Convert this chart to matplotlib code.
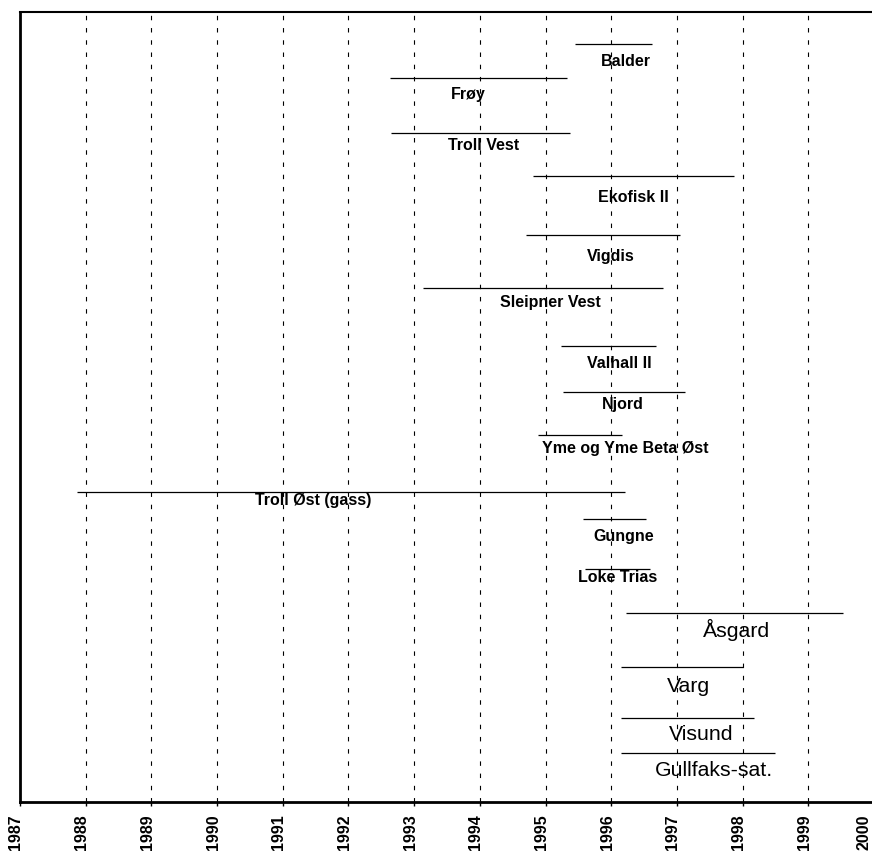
import matplotlib.pyplot as plt
from matplotlib.transforms import ScaledTranslation

# prosjekter, start/slutt (år) og rad (ovenfra)
projects = ['Balder', 'Frøy', 'Troll Vest', 'Ekofisk II', 'Vigdis', 'Sleipner Vest',
            'Valhall II', 'Njord', 'Yme og Yme Beta Øst', 'Troll Øst (gass)', 'Gungne',
            'Loke Trias', 'Åsgard', 'Varg', 'Visund', 'Gullfaks-sat.']
start = [1995.45, 1992.63, 1992.65, 1994.81, 1994.70, 1993.13,
         1995.23, 1995.26, 1994.88, 1987.87, 1995.57,
         1995.60, 1996.22, 1996.15, 1996.15, 1996.15]
end = [1996.62, 1995.33, 1995.37, 1997.87, 1997.05, 1996.79,
       1996.68, 1997.12, 1996.16, 1996.21, 1996.53,
       1996.59, 1999.53, 1998.00, 1998.17, 1998.49]
rows = [32, 66, 121, 164, 223, 276, 334, 380, 423, 480, 507, 557, 601, 655, 706, 741]

# plassering av etikettene
label_x = [1996.22, 1993.83, 1994.06, 1996.33, 1996.00, 1995.08,
           1996.12, 1996.18, 1996.21, 1991.47, 1996.19,
           1996.10, 1997.90, 1997.17, 1997.37, 1997.56]
label_y = [49, 83, 133, 186, 245, 291, 351, 392, 437, 488, 525, 565, 618, 675, 722, 758]
big = ['Åsgard', 'Varg', 'Visund', 'Gullfaks-sat.']

years = list(range(1987, 2001))

plt.rcParams['font.family'] = ['Liberation Sans', 'DejaVu Sans']

fig = plt.figure(figsize=(8.72, 8.51), dpi=100)
ax = fig.add_axes([20 / 872, 49 / 851, 854 / 872, 790 / 851])

ax.set_xlim(1987, 2000)
ax.set_ylim(790, 0)

for yr in years[1:]:
    ax.axvline(yr, color='black', lw=0.8, linestyle=(0, (4, 7)), zorder=1)

ax.hlines(rows, start, end, color='black', lw=0.9, zorder=2)

for name, x, y in zip(projects, label_x, label_y):
    if name in big:
        ax.text(x, y, name, ha='center', va='center', fontsize=15.3, zorder=3)
    else:
        ax.text(x, y, name, ha='center', va='center', fontsize=11.5,
                fontweight='bold', zorder=3)

ax.set_xticks(years)
ax.set_xticklabels([str(y) for y in years], rotation=90, fontsize=11.5,
                   fontweight='bold', va='top')
ax.tick_params(axis='x', direction='out', length=3, width=1, pad=6)
ax.set_yticks([])

# etikettene litt mot venstre, siste skyves inn i bildet
labels = ax.get_xticklabels()
for i, lab in enumerate(labels):
    dx = -4 if i < len(labels) - 1 else -10
    lab.set_transform(lab.get_transform() + ScaledTranslation(dx / 100, 0, fig.dpi_scale_trans))

ax.spines['right'].set_visible(False)
ax.spines['left'].set_linewidth(2)
ax.spines['bottom'].set_linewidth(2)
ax.spines['top'].set_linewidth(1.5)

fig.savefig('out.png', dpi=100)
